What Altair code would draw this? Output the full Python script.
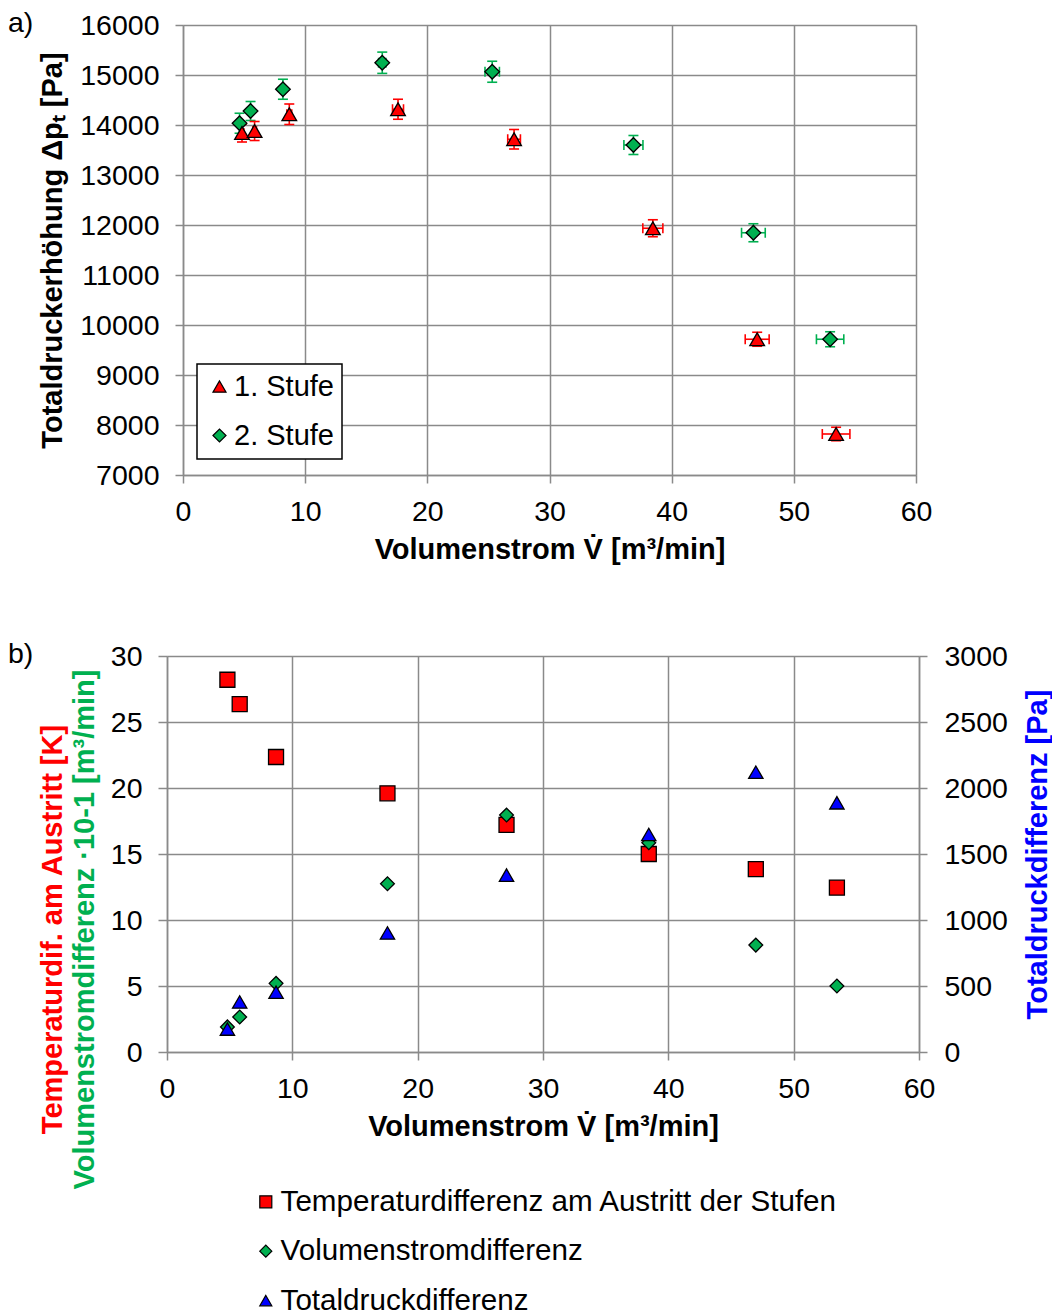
import altair as alt
import pandas as pd

# ---------------- chart a) data ----------------
series_a = ["1. Stufe", "2. Stufe"]

stufe1_x = [4.83, 5.86, 8.70, 17.60, 27.10, 38.46, 47.00, 53.46]
stufe1_y = [13840, 13880, 14215, 14315, 13715, 11935, 9715, 7820]
stufe1_xerr = [0.15, 0.15, 0.20, 0.45, 0.52, 0.82, 0.98, 1.13]
stufe1_yerr = [180, 190, 205, 200, 195, 170, 140, 135]

stufe2_x = [4.63, 5.53, 8.18, 16.31, 25.31, 36.87, 46.69, 52.97]
stufe2_y = [14035, 14280, 14715, 15245, 15065, 13600, 11845, 9715]
stufe2_xerr = [0.10, 0.12, 0.18, 0.30, 0.59, 0.78, 0.97, 1.12]
stufe2_yerr = [200, 190, 200, 213, 210, 190, 180, 150]

x_ticks = [0, 10, 20, 30, 40, 50, 60]
ya_ticks = [7000, 8000, 9000, 10000, 11000, 12000, 13000, 14000, 15000, 16000]

# ---------------- chart b) data ----------------
series_b = ["Temperaturdifferenz am Austritt der Stufen", "Volumenstromdifferenz", "Totaldruckdifferenz"]
vol_b = [4.82, 5.80, 8.70, 17.59, 27.09, 38.44, 46.98, 53.45]
temp_diff = [28.2, 26.35, 22.35, 19.6, 17.2, 15.0, 13.85, 12.45]
vol_diff = [1.9, 2.65, 5.2, 12.75, 17.95, 15.85, 8.1, 5.0]
dp_diff = [174, 379, 453, 902, 1340, 1648, 2120, 1888]
yb_left_ticks = [0, 5, 10, 15, 20, 25, 30]
yb_right_ticks = [0, 500, 1000, 1500, 2000, 2500, 3000]

RED = "#FF0000"
GREEN = "#00B050"
BLUE = "#0000FF"
GRAY = "#8a8a8a"
FONT = "Liberation Sans"

# ---------- table a ----------
rows = []
for name, xs, ys, xe, ye in [
    (series_a[1], stufe2_x, stufe2_y, stufe2_xerr, stufe2_yerr),
    (series_a[0], stufe1_x, stufe1_y, stufe1_xerr, stufe1_yerr),
]:
    for x, y, ex, ey in zip(xs, ys, xe, ye):
        rows.append(dict(series=name, x=x, y=y, x_lo=x - ex, x_hi=x + ex,
                         y_lo=y - ey, y_hi=y + ey))
df_a = pd.DataFrame(rows)

X_A = alt.Scale(domain=[0, 60], range=[16, 749], nice=False, zero=False)
Y_A = alt.Scale(domain=[7000, 16000], nice=False, zero=False)

axis_xa = alt.Axis(values=x_ticks, title="Volumenstrom V̇ [m³/min]", grid=True,
                   labelFlush=False, labelOverlap=False, tickSize=8,
                   labelPadding=14, titlePadding=10)
axis_ya = alt.Axis(values=ya_ticks, format="d", title="Totaldruckerhöhung Δpₜ [Pa]",
                   grid=True, offset=-16, tickSize=8, labelPadding=16,
                   labelOverlap=False, titleX=-131, titleBaseline="middle",
                   titleAngle=270)

leg_a = alt.Legend(title=None, orient="none", legendX=30, legendY=339, padding=8,
                   rowPadding=19, labelOffset=0, labelFontSize=29, symbolSize=170,
                   symbolStrokeWidth=1.2, strokeColor="black", fillColor="white")


def xa(field):
    return alt.X(f"{field}:Q", scale=X_A, axis=axis_xa)


def ya(field):
    return alt.Y(f"{field}:Q", scale=Y_A, axis=axis_ya)


err_layers = []
for name, colr in [(series_a[1], GREEN), (series_a[0], RED)]:
    b = alt.Chart(df_a).transform_filter(alt.datum.series == name)
    err_layers += [
        b.mark_rule(strokeWidth=1.6, color=colr).encode(x=xa("x"), y=ya("y_lo"), y2="y_hi:Q"),
        b.mark_rule(strokeWidth=1.6, color=colr).encode(x=xa("x_lo"), x2="x_hi:Q", y=ya("y")),
        b.mark_tick(orient="horizontal", size=10, thickness=1.6, opacity=1, color=colr).encode(x=xa("x"), y=ya("y_lo")),
        b.mark_tick(orient="horizontal", size=10, thickness=1.6, opacity=1, color=colr).encode(x=xa("x"), y=ya("y_hi")),
        b.mark_tick(orient="vertical", size=10, thickness=1.6, opacity=1, color=colr).encode(x=xa("x_lo"), y=ya("y")),
        b.mark_tick(orient="vertical", size=10, thickness=1.6, opacity=1, color=colr).encode(x=xa("x_hi"), y=ya("y")),
    ]

pts_a = alt.Chart(df_a).mark_point(filled=True, opacity=1, strokeWidth=1.3, size=215).encode(
    x=xa("x"),
    y=ya("y"),
    shape=alt.Shape("series:N", scale=alt.Scale(domain=series_a, range=["triangle-up", "diamond"]), legend=leg_a),
    fill=alt.Fill("series:N", scale=alt.Scale(domain=series_a, range=[RED, GREEN]), legend=leg_a),
    stroke=alt.Stroke("series:N", scale=alt.Scale(domain=series_a, range=["black", "black"]), legend=leg_a),
)

chart_a = alt.layer(*err_layers, pts_a).properties(
    width=752, height=450,
    title=alt.TitleParams(text="a)", anchor="start", frame="group", orient="top",
                          offset=-40, dx=-159, baseline="middle",
                          fontSize=28.5, fontWeight="normal", font=FONT, color="black"),
)

# ---------- table b ----------
df_b = pd.DataFrame({
    "series": [series_b[0]] * len(vol_b) + [series_b[1]] * len(vol_b) + [series_b[2]] * len(vol_b),
    "x": vol_b * 3,
    "value": temp_diff + vol_diff + dp_diff,
})

X_B = alt.Scale(domain=[0, 60], nice=False, zero=False)
axis_xb = alt.Axis(values=x_ticks, title="Volumenstrom V̇ [m³/min]", grid=True,
                   labelFlush=False, labelOverlap=False, tickSize=8,
                   labelPadding=14, titlePadding=10)

leg_b = alt.Legend(title=None, orient="none", legendX=84, legendY=531, padding=0,
                   rowPadding=18.4, labelOffset=0, labelFontSize=29.6, symbolSize=144,
                   symbolStrokeWidth=1.2, labelLimit=800)
fill_b = alt.Fill("series:N", scale=alt.Scale(domain=series_b, range=[RED, GREEN, BLUE]), legend=leg_b)
shape_b = alt.Shape("series:N", scale=alt.Scale(domain=series_b, range=["square", "diamond", "triangle-up"]), legend=leg_b)
stroke_b = alt.Stroke("series:N", scale=alt.Scale(domain=series_b, range=["black", "black", "black"]), legend=leg_b)

base_b = alt.Chart(df_b)

red_b = base_b.transform_filter(alt.datum.series == series_b[0]).mark_point(
    filled=True, opacity=1, strokeWidth=1.3, size=225).encode(
    x=alt.X("x:Q", scale=X_B, axis=axis_xb),
    y=alt.Y("value:Q", scale=alt.Scale(domain=[0, 30], nice=False),
            axis=alt.Axis(orient="left", title="Temperaturdif. am Austritt [K]", titleColor=RED,
                          labels=False, ticks=False, domain=False, grid=False,
                          titleX=-114.5, titleY=273, titleBaseline="middle", titleAngle=270)),
    fill=fill_b, shape=shape_b, stroke=stroke_b)

green_b = base_b.transform_filter(alt.datum.series == series_b[1]).mark_point(
    filled=True, opacity=1, strokeWidth=1.3, size=190).encode(
    x=alt.X("x:Q", scale=X_B, axis=axis_xb),
    y=alt.Y("value:Q", scale=alt.Scale(domain=[0, 30], nice=False),
            axis=alt.Axis(orient="left", values=yb_left_ticks, title="Volumenstromdifferenz ·10-1 [m³/min]",
                          titleColor=GREEN, grid=True, tickSize=9, labelPadding=16,
                          labelOverlap=False, titleX=-83, titleY=273,
                          titleBaseline="middle", titleAngle=270)),
    fill=fill_b, shape=shape_b, stroke=stroke_b)

blue_b = base_b.transform_filter(alt.datum.series == series_b[2]).mark_point(
    filled=True, opacity=1, strokeWidth=1.3, size=205).encode(
    x=alt.X("x:Q", scale=X_B, axis=axis_xb),
    y=alt.Y("value:Q", scale=alt.Scale(domain=[0, 3000], nice=False),
            axis=alt.Axis(orient="right", values=yb_right_ticks, format="d",
                          title="Totaldruckdifferenz [Pa]",
                          titleColor=BLUE, grid=False, tickSize=8, labelPadding=17,
                          labelOverlap=False, titleX=118, titleBaseline="middle",
                          titleAngle=270)),
    fill=fill_b, shape=shape_b, stroke=stroke_b)

chart_b = alt.layer(red_b, green_b, blue_b).resolve_scale(y="independent").properties(
    width=752, height=396,
    title=alt.TitleParams(text="b)", anchor="start", frame="group", orient="top",
                          offset=-40, dx=-159, baseline="middle",
                          fontSize=28.5, fontWeight="normal", font=FONT, color="black"),
)

chart = alt.vconcat(chart_a, chart_b, spacing=74).resolve_scale(
    fill="independent", shape="independent", stroke="independent",
).resolve_legend(
    fill="independent", shape="independent", stroke="independent",
).properties(
    padding={"left": 8, "top": 8, "right": 0, "bottom": 0},
    background="white",
).configure(font=FONT).configure_view(strokeWidth=0).configure_axis(
    domainColor=GRAY, domainWidth=1.5, gridColor=GRAY, gridWidth=1.5,
    tickColor=GRAY, tickWidth=1.5, labelFont=FONT, labelFontSize=28.5,
    labelColor="black", titleFont=FONT, titleFontSize=29, titleFontWeight="bold",
    titleColor="black",
).configure_legend(
    labelFont=FONT, labelColor="black", strokeWidth=1.5,
)

chart.save("out.html", embed_options={"renderer": "svg", "actions": False})
